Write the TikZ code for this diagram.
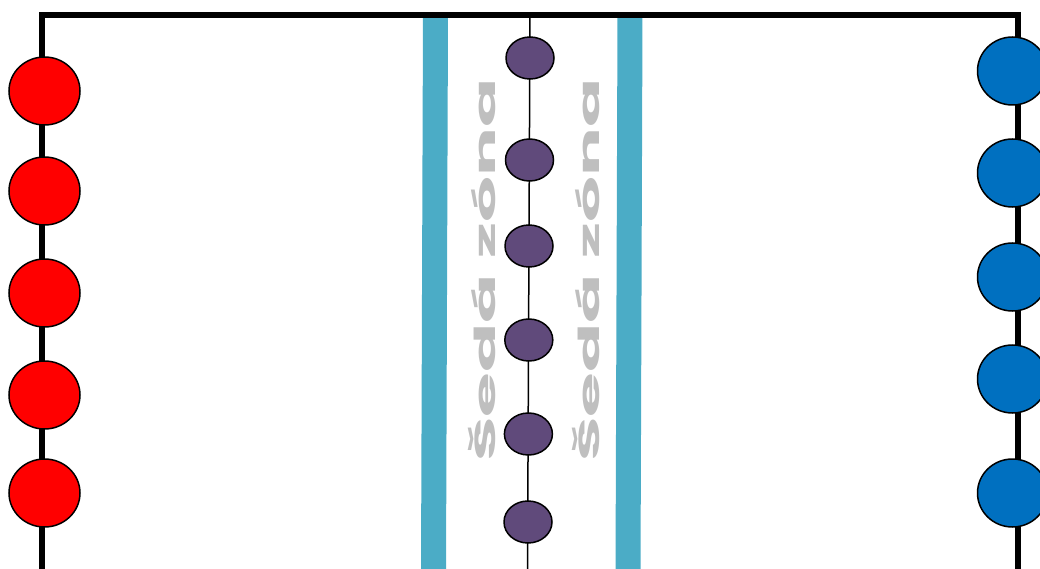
\documentclass[tikz,border=0pt]{standalone}
\usepackage{fontspec}
\usetikzlibrary{shapes.geometric}
\newfontfamily\zonefont[Scale=1]{Poppins}
\definecolor{redc}{HTML}{FF0000}
\definecolor{bluec}{HTML}{0070C0}
\definecolor{purplec}{HTML}{604A7B}
\definecolor{tealc}{HTML}{4BACC6}
\definecolor{grayc}{HTML}{BFBFBF}
\tikzset{
  redball/.style={ellipse, draw=black, line width=1.5bp, fill=redc, minimum width=71bp, minimum height=68bp, inner sep=0pt},
  blueball/.style={ellipse, draw=black, line width=1.5bp, fill=bluec, minimum width=70bp, minimum height=68bp, inner sep=0pt},
  purpleball/.style={ellipse, draw=black, line width=1.5bp, fill=purplec, minimum width=48bp, minimum height=42bp, inner sep=0pt},
  bar/.style={draw=tealc, line width=25bp},
  frameline/.style={draw=black, line width=6bp},
  zonetext/.style={rotate=90, text=grayc, inner sep=0pt, font=\zonefont\bfseries\fontsize{29bp}{32bp}\selectfont}
}
\begin{document}
\begin{tikzpicture}[x=1bp,y=-1bp]
\useasboundingbox (0,0) rectangle (1040,569);
% teal bars
\coordinate (b1t) at (435.5,15);
\coordinate (b1b) at (433.5,572);
\coordinate (b2t) at (630,15);
\coordinate (b2b) at (628,572);
\draw[bar] (b1t) -- (b1b);
\draw[bar] (b2t) -- (b2b);
% frame
\coordinate (fbl) at (42,575);
\coordinate (ftl) at (42,15);
\coordinate (ftr) at (1017.5,15);
\coordinate (fbr) at (1017.5,575);
\draw[frameline] (fbl) -- (ftl) -- (ftr) -- (fbr);
% central line
\coordinate (ct) at (530,15);
\coordinate (cb) at (527.5,572);
\draw[line width=1.5bp] (ct) -- (cb);
% texts
\node[zonetext] (t1) at (482,270) {\scalebox{2.5}[1]{Šedá zóna}};
\node[zonetext] (t2) at (586,270) {\scalebox{2.5}[1]{Šedá zóna}};
% red balls
\node[redball] (r1) at (44.5,91) {};
\node[redball] (r2) at (44.5,191) {};
\node[redball] (r3) at (44.5,293) {};
\node[redball] (r4) at (44.5,395) {};
\node[redball] (r5) at (44.5,493) {};
% blue balls
\node[blueball] (u1) at (1012.5,71) {};
\node[blueball] (u2) at (1012.5,173) {};
\node[blueball] (u3) at (1012.5,277) {};
\node[blueball] (u4) at (1012.5,379) {};
\node[blueball] (u5) at (1012.5,493) {};
% purple balls
\node[purpleball] (p1) at (530,58) {};
\node[purpleball] (p2) at (529.5,160) {};
\node[purpleball] (p3) at (529,246) {};
\node[purpleball] (p4) at (528.8,340) {};
\node[purpleball] (p5) at (528.4,434) {};
\node[purpleball] (p6) at (528,522) {};
\end{tikzpicture}
\end{document}
